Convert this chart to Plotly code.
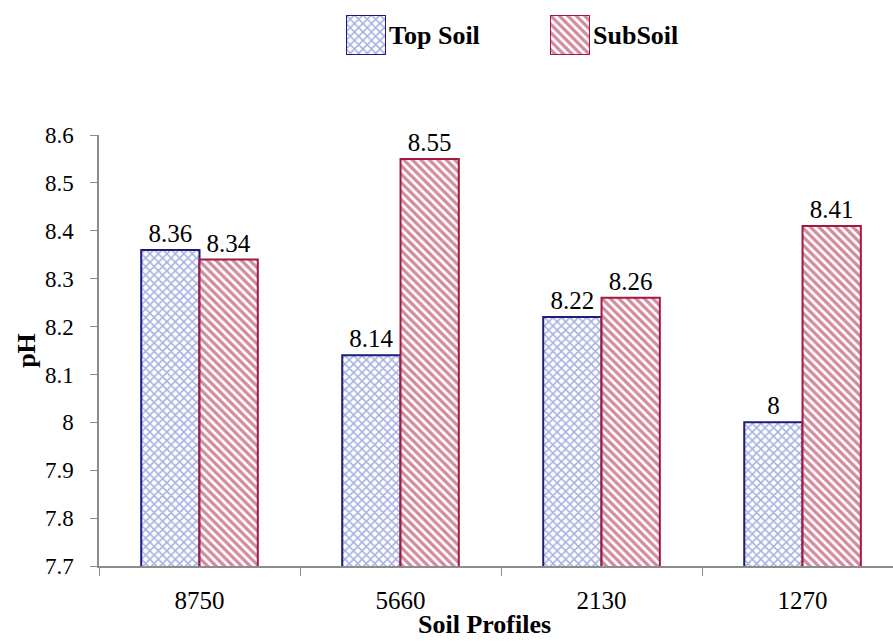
import plotly.graph_objects as go

# Soil pH by profile
profiles = ["8750", "5660", "2130", "1270"]
top_soil = [8.36, 8.14, 8.22, 8.00]
sub_soil = [8.34, 8.55, 8.26, 8.41]
top_labels = ["8.36", "8.14", "8.22", "8"]
sub_labels = ["8.34", "8.55", "8.26", "8.41"]
series_names = ["Top Soil", "SubSoil"]
y_ticks = [7.7, 7.8, 7.9, 8.0, 8.1, 8.2, 8.3, 8.4, 8.5, 8.6]
y_ticktext = ["7.7", "7.8", "7.9", "8", "8.1", "8.2", "8.3", "8.4", "8.5", "8.6"]

FONT = "Liberation Serif, Times New Roman, serif"
NAVY = "#1c1c7a"
CRIMSON = "#a3193f"
AXIS = "#8c8c8c"

top_marker = dict(
    color="white",
    line=dict(color=NAVY, width=2),
    pattern=dict(shape="x", fgcolor="#5063c4", bgcolor="white", size=6, solidity=0.45),
)
sub_marker = dict(
    color="white",
    line=dict(color=CRIMSON, width=2),
    pattern=dict(shape="\\", fgcolor=CRIMSON, bgcolor="white", size=6, solidity=0.55),
)

fig = go.Figure()
fig.add_bar(
    name=series_names[0], x=profiles, y=top_soil,
    text=top_labels, textposition="outside", cliponaxis=False,
    textfont=dict(family=FONT, size=25, color="black"),
    marker=top_marker, showlegend=False,
)
fig.add_bar(
    name=series_names[1], x=profiles, y=sub_soil,
    text=sub_labels, textposition="outside", cliponaxis=False,
    textfont=dict(family=FONT, size=25, color="black"),
    marker=sub_marker, showlegend=False,
)

# Legend swatches: one unit-square bar per series, each on its own small axis pair
fig.add_bar(
    x=[0], y=[1], width=[1], marker=top_marker,
    xaxis="x2", yaxis="y2", showlegend=False, hoverinfo="skip",
)
fig.add_bar(
    x=[0], y=[1], width=[1], marker=sub_marker,
    xaxis="x3", yaxis="y3", showlegend=False, hoverinfo="skip",
)

PLOT_W = 893 - 99
PLOT_H = 642 - 10 - 76


def px_x(p):
    return (p - 99) / PLOT_W


def px_y(p):
    return (566 - p) / PLOT_H


swatch_y = [px_y(55), px_y(15)]
hidden = dict(visible=False, fixedrange=True)

fig.update_layout(
    width=893, height=642,
    margin=dict(l=99, r=0, t=10, b=76),
    paper_bgcolor="white", plot_bgcolor="white",
    barmode="group", bargap=0.42, bargroupgap=0,
    font=dict(family=FONT, size=22, color="black"),
    showlegend=False,
    xaxis=dict(
        range=[-0.5, 3.45],
        showline=True, linecolor=AXIS, linewidth=1.5,
        ticks="outside", tickson="boundaries", ticklen=8, tickcolor=AXIS,
        ticklabelstandoff=11,
        tickfont=dict(family=FONT, size=25),
        automargin=False,
    ),
    yaxis=dict(
        domain=[0, px_y(135)],
        range=[7.7, 8.6],
        tickvals=y_ticks, ticktext=y_ticktext,
        showline=True, linecolor=AXIS, linewidth=1.5,
        ticks="outside", ticklen=7, tickcolor=AXIS,
        ticklabelstandoff=12,
        showgrid=False, zeroline=False,
        tickfont=dict(family=FONT, size=23),
        title=dict(text="<b>pH</b>", font=dict(family=FONT, size=26), standoff=2),
        automargin=False,
    ),
    xaxis2=dict(domain=[px_x(346), px_x(386)], range=[-0.5, 0.5], anchor="y2", **hidden),
    yaxis2=dict(domain=swatch_y, range=[0, 1], anchor="x2", **hidden),
    xaxis3=dict(domain=[px_x(550), px_x(590)], range=[-0.5, 0.5], anchor="y3", **hidden),
    yaxis3=dict(domain=swatch_y, range=[0, 1], anchor="x3", **hidden),
)

# x-axis title, set low near the bottom edge of the page
fig.add_annotation(
    text="<b>Soil Profiles</b>", xref="paper", yref="paper",
    x=px_x(484), y=px_y(641), xanchor="center", yanchor="bottom",
    showarrow=False, font=dict(family=FONT, size=26, color="black"),
)
fig.add_annotation(
    text="<b>Top Soil</b>", xref="paper", yref="paper",
    x=px_x(387), y=px_y(35), xanchor="left", yanchor="middle",
    showarrow=False, font=dict(family=FONT, size=26, color="black"),
)
fig.add_annotation(
    text="<b>SubSoil</b>", xref="paper", yref="paper",
    x=px_x(591), y=px_y(35), xanchor="left", yanchor="middle",
    showarrow=False, font=dict(family=FONT, size=26, color="black"),
)

fig.write_html("out.html")
